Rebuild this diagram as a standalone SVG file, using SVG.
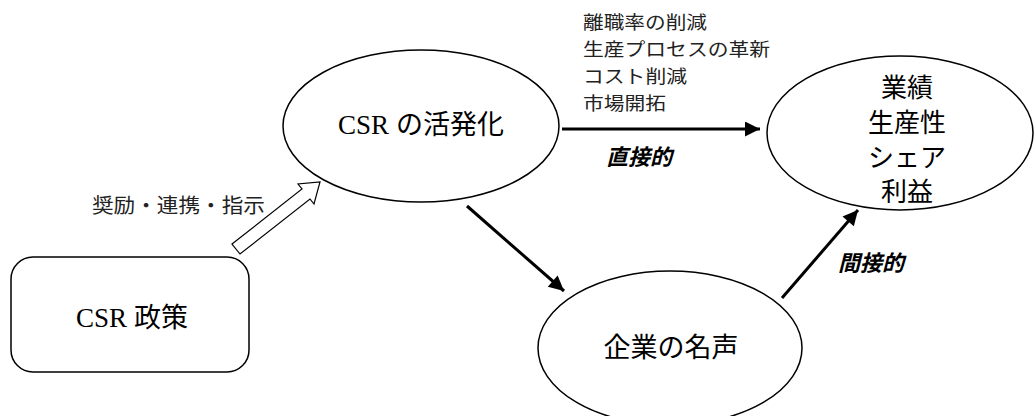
<svg xmlns="http://www.w3.org/2000/svg" width="1035" height="416" viewBox="0 0 1035 416">
<style>
.shape{fill:#fff;stroke:#000;stroke-width:1.5}
.big{font-family:"Liberation Serif","Noto Sans CJK JP",serif;font-size:27px;fill:#000;text-anchor:middle;dominant-baseline:central}
.r{font-size:26px}
.small{font-family:"Noto Sans CJK JP",sans-serif;font-size:20px;fill:#222}
.list{font-family:"Noto Sans CJK JP",sans-serif;font-size:18.5px;fill:#222}
.lab{font-family:"Noto Sans CJK JP",sans-serif;font-size:22px;font-style:italic;font-weight:bold;fill:#000}
.conn{stroke:#000;stroke-width:3;fill:none}
</style>
<defs>
<marker id="ah" viewBox="0 0 10 10" refX="10" refY="5" markerWidth="5.5" markerHeight="5" orient="auto" markerUnits="strokeWidth">
<path d="M0,0 L10,5 L0,10 z" fill="#000"/>
</marker>
</defs>
<rect width="1035" height="416" fill="#fff"/>
<g id="connectors">
<line class="conn" x1="562" y1="129" x2="760" y2="129" marker-end="url(#ah)"/>
<line class="conn" x1="467" y1="206" x2="564" y2="291" marker-end="url(#ah)"/>
<line class="conn" x1="782" y1="298" x2="858" y2="210" marker-end="url(#ah)"/>
<polygon points="232,244 302,189 298,184 320,182 314,204 310,199 240,254" fill="#fff" stroke="#000" stroke-width="1.2"/>
<text class="small" x="92" y="213" textLength="173" lengthAdjust="spacingAndGlyphs">奨励・連携・指示</text>
<text class="lab" x="606" y="165">直接的</text>
<text class="lab" x="838" y="271">間接的</text>
</g>
<g id="effects-text">
<text class="list" x="583" y="29" textLength="124" lengthAdjust="spacingAndGlyphs">離職率の削減</text>
<text class="list" x="583" y="56" textLength="187" lengthAdjust="spacingAndGlyphs">生産プロセスの革新</text>
<text class="list" x="583" y="83" textLength="104" lengthAdjust="spacingAndGlyphs">コスト削減</text>
<text class="list" x="583" y="110" textLength="83" lengthAdjust="spacingAndGlyphs">市場開拓</text>
</g>
<g id="policy">
<rect class="shape" x="11" y="257" width="238" height="115" rx="22"/>
<text class="big" x="132" y="318">CSR 政策</text>
</g>
<g id="activation">
<ellipse class="shape" cx="421" cy="126" rx="138" ry="76"/>
<text class="big" x="421" y="125">CSR の活発化</text>
</g>
<g id="performance">
<ellipse class="shape" cx="900" cy="133" rx="133" ry="77"/>
<text class="big r" x="907" y="88">業績</text>
<text class="big r" x="907" y="123">生産性</text>
<text class="big r" x="907" y="158">シェア</text>
<text class="big r" x="907" y="192">利益</text>
</g>
<g id="reputation">
<ellipse class="shape" cx="670" cy="348" rx="132" ry="77"/>
<text class="big" x="671" y="348">企業の名声</text>
</g>
</svg>
